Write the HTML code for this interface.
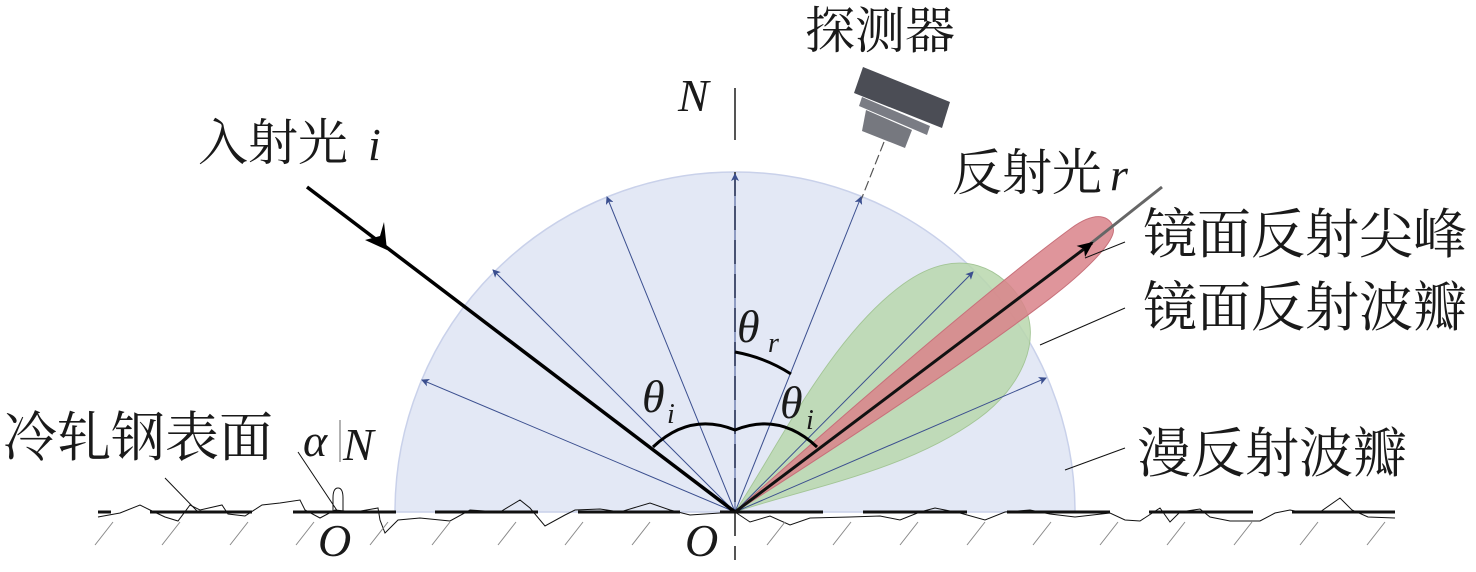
<!DOCTYPE html>
<html><head><meta charset="utf-8"><style>
html,body{margin:0;padding:0;background:#fff;}
svg{display:block;}
.cn{font-family:"Liberation Serif","Noto Serif CJK SC",serif;fill:#1a1a1a;}
.it{font-family:"Liberation Serif",serif;font-style:italic;fill:#1a1a1a;}
</style></head><body>
<svg width="1476" height="572" viewBox="0 0 1476 572" xmlns="http://www.w3.org/2000/svg">
<defs>
<marker id="ab" markerWidth="8" markerHeight="8" refX="7" refY="4" orient="auto" markerUnits="userSpaceOnUse"><path d="M0,0 L8,4 L0,8 L2,4 Z" fill="#3b4f8f"/></marker>
<marker id="ak" markerWidth="16" markerHeight="14" refX="14" refY="7" orient="auto" markerUnits="userSpaceOnUse"><path d="M0,0 L16,7 L0,14 L4,7 Z" fill="#000"/></marker>
</defs>
<path d="M395,512 A340,340 0 0 1 1075,512 Z" fill="#e3e8f5" stroke="#c9d1ea" stroke-width="1.5"/>
<line x1="735" y1="88" x2="735" y2="140" stroke="#555" stroke-width="2"/>
<line x1="735" y1="172" x2="735" y2="560" stroke="#555" stroke-width="2" stroke-dasharray="24,10"/>
<line x1="884" y1="142" x2="861" y2="200" stroke="#555" stroke-width="1.2" stroke-dasharray="10,4"/>
<g stroke="#3b4f8f" stroke-width="1" fill="none" marker-end="url(#ab)">
<line x1="735" y1="512" x2="735" y2="174"/>
<line x1="735" y1="512" x2="607" y2="197"/>
<line x1="735" y1="512" x2="493" y2="270"/>
<line x1="735" y1="512" x2="422" y2="380"/>
<line x1="735" y1="512" x2="861" y2="197"/>
</g>
<g transform="translate(735,512) rotate(-36) scale(0.9)">
<path d="M0,0 C80,-30 200,-95 300,-95 C380,-95 400,-40 395,0 C390,45 340,75 280,75 C180,75 80,25 0,0 Z" fill="#b9d7ad" fill-opacity="0.85" stroke="#a3c596" stroke-width="1"/>
</g>
<g stroke="#3b4f8f" stroke-width="1" fill="none" marker-end="url(#ab)">
<line x1="735" y1="512" x2="973" y2="272"/>
<line x1="735" y1="512" x2="1046" y2="378"/>
</g>
<g transform="translate(735,512) rotate(-37.3)">
<path d="M0,0 C120,-10 330,-24 440,-22 C475,-21 478,-4 472,5 C464,16 420,21 380,21 C270,21 110,9 0,0 Z" fill="#d9838a" fill-opacity="0.85" stroke="#c7707a" stroke-width="1"/>
</g>
<line x1="1080" y1="252" x2="1162" y2="187" stroke="#666" stroke-width="3"/>
<line x1="735" y1="512" x2="1092" y2="243" stroke="#111" stroke-width="3" marker-end="url(#ak)"/>
<line x1="307" y1="187" x2="735" y2="512" stroke="#000" stroke-width="3.5"/>
<path d="M387,250 L365,240 L380,236 L384,222 Z" fill="#000"/>
<path d="M653,447 Q690,412 735,430 Q780,412 817,447" fill="none" stroke="#000" stroke-width="3"/>
<path d="M735,352 A155,155 0 0 1 791,374" fill="none" stroke="#000" stroke-width="3"/>
<polygon points="863,67 950,102 942,128 854,93" fill="#4b4d55"/>
<polygon points="862,97 930,126 927,135 859,106" fill="#7a7c84"/>
<polygon points="866,110 912,130 905,148 862,131" fill="#76787f"/>
<g stroke="#111" stroke-width="3">
<line x1="98" y1="512" x2="111" y2="512"/>
<line x1="150" y1="512" x2="252" y2="512"/>
<line x1="293" y1="512" x2="396" y2="512"/>
<line x1="435" y1="512" x2="538" y2="512"/>
<line x1="578" y1="512" x2="680" y2="512"/>
<line x1="720" y1="512" x2="823" y2="512"/>
<line x1="863" y1="512" x2="967" y2="512"/>
<line x1="1007" y1="512" x2="1110" y2="512"/>
<line x1="1149" y1="512" x2="1253" y2="512"/>
<line x1="1292" y1="512" x2="1395" y2="512"/>
</g>
<path d="M98,517 L120,513 L140,505 L150,510 L165,517 L178,521 L190,505 L200,510 L222,505 L228,514 L245,516 L262,505 L280,503 L300,500 L305,510 L320,518 L335,510 L355,512 L378,508 L380,520 L385,533 L398,520 L420,518 L450,521 L470,510 L500,512 L520,500 L530,508 L545,526 L565,515 L575,510 L600,509 L620,512 L650,503 L670,510 L690,515 L720,513 L735,512 L750,522 L770,516 L790,525 L810,518 L850,517 L880,516 L900,520 L920,512 L935,508 L960,513 L985,520 L1005,512 L1030,510 L1050,514 L1075,517 L1110,513 L1125,520 L1140,521 L1160,508 L1170,522 L1180,512 L1200,509 L1210,517 L1230,521 L1260,521 L1275,513 L1290,510 L1300,512 L1320,512 L1340,498 L1352,510 L1368,517 L1395,518" fill="none" stroke="#111" stroke-width="1"/>
<g stroke="#888" stroke-width="1">
<line x1="95" y1="545" x2="113" y2="522"/><line x1="162" y1="545" x2="180" y2="522"/><line x1="230" y1="545" x2="248" y2="522"/><line x1="296" y1="545" x2="314" y2="522"/><line x1="370" y1="545" x2="388" y2="522"/><line x1="432" y1="545" x2="450" y2="522"/><line x1="498" y1="545" x2="516" y2="522"/><line x1="565" y1="545" x2="583" y2="522"/><line x1="632" y1="545" x2="650" y2="522"/><line x1="767" y1="545" x2="785" y2="522"/><line x1="833" y1="545" x2="851" y2="522"/><line x1="900" y1="545" x2="918" y2="522"/><line x1="967" y1="545" x2="985" y2="522"/><line x1="1033" y1="545" x2="1051" y2="522"/><line x1="1100" y1="545" x2="1118" y2="522"/><line x1="1167" y1="545" x2="1185" y2="522"/><line x1="1234" y1="545" x2="1252" y2="522"/><line x1="1300" y1="545" x2="1318" y2="522"/><line x1="1367" y1="545" x2="1385" y2="522"/>
</g>
<line x1="340" y1="420" x2="340" y2="462" stroke="#666" stroke-width="1"/>
<path d="M333,512 L333,498 Q333,488 338,488 Q343,488 343,498 L343,512" fill="none" stroke="#111" stroke-width="1"/>
<g stroke="#111" stroke-width="1">
<line x1="165" y1="478" x2="198" y2="512"/>
<line x1="298" y1="452" x2="338" y2="512"/>
<line x1="1085" y1="258" x2="1125" y2="242"/>
<line x1="1040" y1="345" x2="1125" y2="308"/>
<line x1="1065" y1="470" x2="1125" y2="448"/>
</g>
<text class="cn" x="805" y="48" font-size="50">探测器</text>
<text class="it" x="678" y="111" font-size="46">N</text>
<text class="cn" x="198" y="160" font-size="50">入射光</text>
<text class="it" x="368" y="160" font-size="46">i</text>
<text class="cn" x="952" y="190" font-size="50">反射光</text>
<text class="it" x="1110" y="190" font-size="46">r</text>
<text class="cn" x="1143" y="253" font-size="54">镜面反射尖峰</text>
<text class="cn" x="1143" y="326" font-size="54">镜面反射波瓣</text>
<text class="cn" x="1137" y="472" font-size="54">漫反射波瓣</text>
<text class="cn" x="3" y="456" font-size="54">冷轧钢表面</text>
<text class="it" x="303" y="456" font-size="46">α</text>
<text class="it" x="343" y="460" font-size="46">N</text>
<text class="it" x="318" y="556" font-size="46">O</text>
<text class="it" x="685" y="556" font-size="46">O</text>
<text class="it" x="642" y="412" font-size="46">θ</text>
<text class="it" x="667" y="423" font-size="28">i</text>
<text class="it" x="737" y="342" font-size="46">θ</text>
<text class="it" x="768" y="352" font-size="28">r</text>
<text class="it" x="780" y="418" font-size="46">θ</text>
<text class="it" x="806" y="429" font-size="28">i</text>
</svg>
</body></html>
